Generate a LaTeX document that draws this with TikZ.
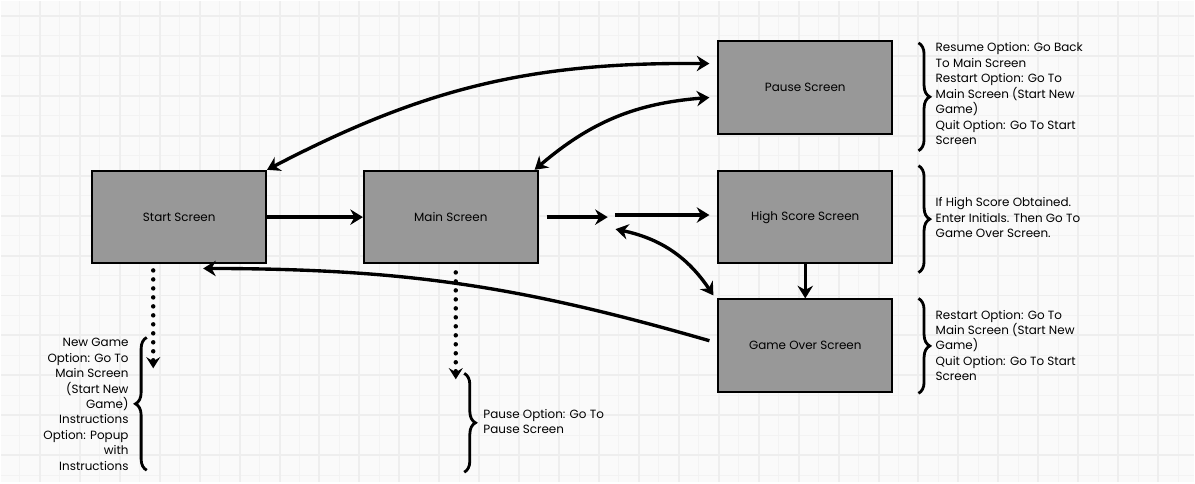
\documentclass[tikz,border=0pt]{standalone}
\usepackage{fontspec}
\setmainfont{Poppins}
\usetikzlibrary{arrows.meta, positioning, decorations.pathreplacing}
\definecolor{boxgray}{RGB}{152,152,152}
\definecolor{paper}{RGB}{250,250,250}
\definecolor{gridmajor}{RGB}{238,238,238}
\definecolor{gridminor}{RGB}{243,243,243}

\begin{document}
\begin{tikzpicture}[x=0.025cm, y=-0.025cm,
    screen/.style={rectangle, draw, line width=1.4pt, fill=boxgray, minimum width=4.35cm, minimum height=2.32cm, font=\fontsize{8.5}{11}\selectfont},
    arr/.style={line width=2.4pt, -{Stealth[length=9pt, width=11pt, inset=3pt]}},
    dblarr/.style={line width=2.4pt, {Stealth[length=9pt, width=11pt, inset=3pt]}-{Stealth[length=9pt, width=11pt, inset=3pt]}},
    dots/.style={line width=3.2pt, line cap=round, dash pattern=on 0pt off 6.4pt, -{Stealth[length=8pt, width=10pt, inset=3pt]}},
    brc/.style={decorate, decoration={brace, amplitude=8pt}, line width=2pt},
    note/.style={inner sep=0pt, font=\fontsize{8.5}{11}\selectfont},
    node distance=1cm]
    % paper and grid
    \fill[paper] (0,0) rectangle (1195,482);
    \foreach \x in {19,59,...,1195} \draw[gridminor, line width=0.7pt] (\x,0) -- (\x,482);
    \foreach \y in {35,75,...,482} \draw[gridminor, line width=0.7pt] (0,\y) -- (1195,\y);
    \foreach \x in {39,79,...,1195} \draw[gridmajor, line width=1.4pt] (\x,0) -- (\x,482);
    \foreach \y in {15,55,...,482} \draw[gridmajor, line width=1.4pt] (0,\y) -- (1195,\y);
    \useasboundingbox (0,0) rectangle (1195,482);

    % screens
    \node[screen] (start) at (178.5,216.5) {Start Screen};
    \node[screen] (main) [right=2.4cm of start] {Main Screen};
    \node[screen] (high) [right=4.475cm of main] {High Score Screen};
    \node[screen] (pause) [above=0.875cm of high] {Pause Screen};
    \node[screen] (over) [below=0.85cm of high] {Game Over Screen};
    \coordinate (fork) at ([xshift=1.8cm]main.east);
    \coordinate (startend) at ([xshift=-0.65cm, yshift=-2.6cm]start.south);
    \coordinate (mainend) at ([xshift=0.125cm, yshift=-2.875cm]main.south);

    % transitions
    \draw[arr] (start.east) -- (main.west);
    \draw[arr] ([xshift=0.2cm]main.east) -- ([xshift=-2pt]fork);
    \draw[arr] ([xshift=3pt, yshift=1.5pt]fork) -- ([xshift=-0.2cm, yshift=1.5pt]high.west);
    \draw[arr] (high.south) -- (over.north);
    \draw[dblarr] ([xshift=0.125cm, yshift=-0.3cm]fork) to[bend left=22] ([xshift=-0.1cm, yshift=0.075cm]over.north west);
    \draw[dblarr] (start.north east) to[bend left=14] ([xshift=-0.2cm, yshift=0.6cm]pause.west);
    \draw[dblarr] ([xshift=-0.1cm]main.north east) to[bend left=18] ([xshift=-0.2cm, yshift=-0.25cm]pause.west);
    \draw[arr] ([xshift=-0.2cm, yshift=0.125cm]over.west) to[bend right=8] ([xshift=0.6cm, yshift=-0.1cm]start.south);
    \draw[dots] ([xshift=-0.65cm, yshift=-0.15cm]start.south) -- (startend);
    \draw[dots] ([xshift=0.125cm, yshift=-0.2cm]main.south) -- (mainend);

    % notes
    \draw[brc] (919,42) -- (919,150);
    \node[note, anchor=west, align=left] (pausenote) at (936,93) {Resume Option: Go Back\\To Main Screen\\Restart Option: Go To\\Main Screen (Start New\\Game)\\Quit Option: Go To Start\\Screen};
    \draw[brc] (919,165) -- (919,272);
    \node[note, anchor=west, align=left] (highnote) at (936,217) {If High Score Obtained.\\Enter Initials. Then Go To\\Game Over Screen.};
    \draw[brc] (919,298) -- (919,393);
    \node[note, anchor=west, align=left] (overnote) at (936,345) {Restart Option: Go To\\Main Screen (Start New\\Game)\\Quit Option: Go To Start\\Screen};
    \draw[brc] (146,470) -- (146,337);
    \node[note, anchor=east, align=right] (startnote) at (128,404) {New Game\\Option: Go To\\Main Screen\\(Start New\\Game)\\Instructions\\Option: Popup\\with\\Instructions};
    \draw[brc] (464,373) -- (464,472);
    \node[note, anchor=west, align=left] (mainnote) at (483,421) {Pause Option: Go To\\Pause Screen};
\end{tikzpicture}
\end{document}
